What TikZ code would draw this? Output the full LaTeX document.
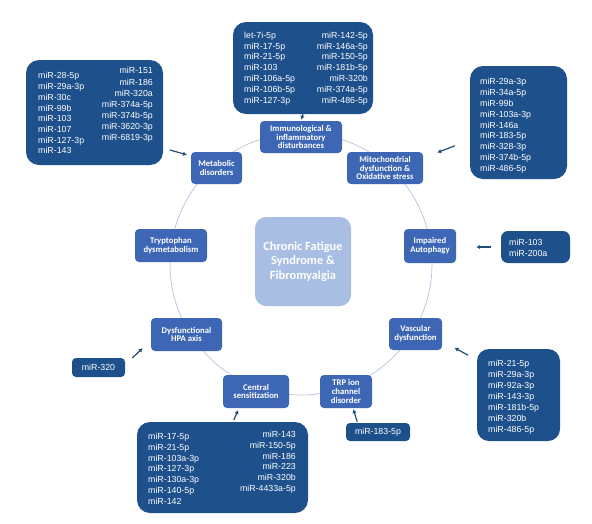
\documentclass[tikz,border=0pt]{standalone}
\usepackage{fontspec}
\setmainfont{Liberation Sans}
\newfontfamily\nodefont{Carlito}
\usetikzlibrary{arrows.meta}
\definecolor{nodeblue}{RGB}{61,103,181}
\definecolor{boxblue}{RGB}{30,80,140}
\definecolor{centerblue}{RGB}{168,190,226}
\definecolor{ringcol}{RGB}{182,196,222}
\definecolor{arrowcol}{RGB}{31,78,121}
\tikzset{
  topic/.style={fill=nodeblue, rounded corners=4pt, text=white, align=center, inner sep=0pt,
    font=\nodefont\bfseries\fontsize{8.7}{8.8}\selectfont},
  mirbox/.style={fill=boxblue, rounded corners=13pt, inner sep=0pt},
  mircol/.style={text=white, inner sep=0pt, font=\fontsize{8.8}{10.8}\selectfont},
  arr/.style={draw=arrowcol, line width=1.2pt, -{Latex[length=4pt,width=4.5pt]}},
}
\begin{document}
\begin{tikzpicture}[x=1pt,y=-1pt]
\fill[white] (0,0) rectangle (592,523);
\useasboundingbox (0,0) rectangle (592,523);

% ring
\draw[ringcol, line width=0.7pt] (301,264) circle[radius=131pt];

% centre
\node[fill=centerblue, rounded corners=11pt, minimum width=96pt, minimum height=89pt, inner sep=0pt,
  text=white, align=center, font=\nodefont\bfseries\fontsize{12.4}{14.3}\selectfont]
  (center) at (303,261.5) {Chronic Fatigue\\Syndrome \&\\Fibromyalgia};

% topics
\node[topic, minimum width=82pt, minimum height=32pt] (immu) at (301,137) {Immunological \&\\inflammatory\\disturbances};
\node[topic, minimum width=51pt, minimum height=32pt] (metab) at (216.5,168) {Metabolic\\disorders};
\node[topic, minimum width=76pt, minimum height=32pt] (mito) at (385,168) {Mitochondrial\\dysfunction \&\\Oxidative stress};
\node[topic, minimum width=72pt, minimum height=33pt] (trypt) at (171,245.5) {Tryptophan\\dysmetabolism};
\node[topic, minimum width=52pt, minimum height=34pt] (autoph) at (430,246) {Impaired\\Autophagy};
\node[topic, minimum width=71pt, minimum height=33pt] (hpa) at (186.5,334.5) {Dysfunctional\\HPA axis};
\node[topic, minimum width=53pt, minimum height=32pt] (vasc) at (415.5,334) {Vascular\\dysfunction};
\node[topic, minimum width=66pt, minimum height=33pt] (central) at (256,391.5) {Central\\sensitization};
\node[topic, minimum width=52pt, minimum height=33pt] (trp) at (346,391.5) {TRP ion\\channel\\disorder};

% miRNA boxes
\node[mirbox, minimum width=140pt, minimum height=92pt] (ibox) at (303,68) {};
\node[mircol, anchor=north west, align=left] (icolL) at (244,31.7)
  {let-7i-5p\\miR-17-5p\\miR-21-5p\\miR-103\\miR-106a-5p\\miR-106b-5p\\miR-127-3p};
\node[mircol, anchor=north east, align=right] (icolR) at (368,31.7)
  {miR-142-5p\\miR-146a-5p\\miR-150-5p\\miR-181b-5p\\miR-320b\\miR-374a-5p\\miR-486-5p};

\node[mirbox, minimum width=137pt, minimum height=105pt] (mbox) at (94.5,112.5) {};
\node[mircol, anchor=north west, align=left, font=\fontsize{8.8}{10.7}\selectfont] (mcolL) at (38,72.4)
  {miR-28-5p\\miR-29a-3p\\miR-30c\\miR-99b\\miR-103\\miR-107\\miR-127-3p\\miR-143};
\node[mircol, anchor=north east, align=right, font=\fontsize{8.8}{11.1}\selectfont] (mcolR) at (153,67.4)
  {miR-151\\miR-186\\miR-320a\\miR-374a-5p\\miR-374b-5p\\miR-3620-3p\\miR-6819-3p};

\node[mirbox, minimum width=97pt, minimum height=113pt] (obox) at (518.5,122.5) {};
\node[mircol, anchor=north west, align=left] (ocol) at (480,78.4)
  {miR-29a-3p\\miR-34a-5p\\miR-99b\\miR-103a-3p\\miR-146a\\miR-183-5p\\miR-328-3p\\miR-374b-5p\\miR-486-5p};

\node[mirbox, rounded corners=7pt, minimum width=69pt, minimum height=32pt] (abox) at (535.5,247) {};
\node[mircol, anchor=north west, align=left, font=\fontsize{8.8}{11}\selectfont] (acol) at (509,238.7)
  {miR-103\\miR-200a};

\node[mirbox, rounded corners=12pt, minimum width=83pt, minimum height=92pt] (vbox) at (518.5,395) {};
\node[mircol, anchor=north west, align=left, font=\fontsize{8.8}{11}\selectfont] (vcol) at (488,359.7)
  {miR-21-5p\\miR-29a-3p\\miR-92a-3p\\miR-143-3p\\miR-181b-5p\\miR-320b\\miR-486-5p};

\node[mirbox, minimum width=171pt, minimum height=91pt] (cbox) at (222.5,467.5) {};
\node[mircol, anchor=north west, align=left, font=\fontsize{8.8}{10.9}\selectfont] (ccolL) at (148,432.7)
  {miR-17-5p\\miR-21-5p\\miR-103a-3p\\miR-127-3p\\miR-130a-3p\\miR-140-5p\\miR-142};
\node[mircol, anchor=north east, align=right, font=\fontsize{8.8}{10.9}\selectfont] (ccolR) at (296,430.7)
  {miR-143\\miR-150-5p\\miR-186\\miR-223\\miR-320b\\miR-4433a-5p};

\node[mirbox, rounded corners=4pt, minimum width=53pt, minimum height=19pt, text=white,
  font=\fontsize{8.8}{10.8}\selectfont] (hbox) at (98.5,367.5) {miR-320};
\node[mirbox, rounded corners=4pt, minimum width=64pt, minimum height=18pt, text=white,
  font=\fontsize{8.8}{10.8}\selectfont] (tbox) at (378,432) {miR-183-5p};

% arrows
\draw[arr, shorten >=1pt] (ibox.south) -- (immu.north);
\draw[arr, shorten <=7pt, shorten >=4pt] (mbox.east |- 0,148) -- (metab.west |- 0,156);
\draw[arr, shorten <=16pt, shorten >=15pt] (obox.west |- 0,140) -- (mito.east |- 0,158);
\draw[arr, shorten <=10pt, shorten >=20pt] (abox.west) -- (autoph.east |- abox.west);
\draw[arr, shorten <=10pt, shorten >=14pt] (vbox.west |- 0,360) -- (vasc.east |- 0,341);
\draw[arr, shorten <=2pt, shorten >=2pt] (cbox.north -| 233,0) -- (central.south -| 239,0);
\draw[arr, shorten <=9.5pt, shorten >=11pt] (hbox.east |- 0,364.4) -- (hpa.west |- 0,340.7);
\draw[arr, shorten <=1pt, shorten >=1pt] (tbox.north -| 357.5,0) -- (trp.south -| 353,0);
\end{tikzpicture}
\end{document}
